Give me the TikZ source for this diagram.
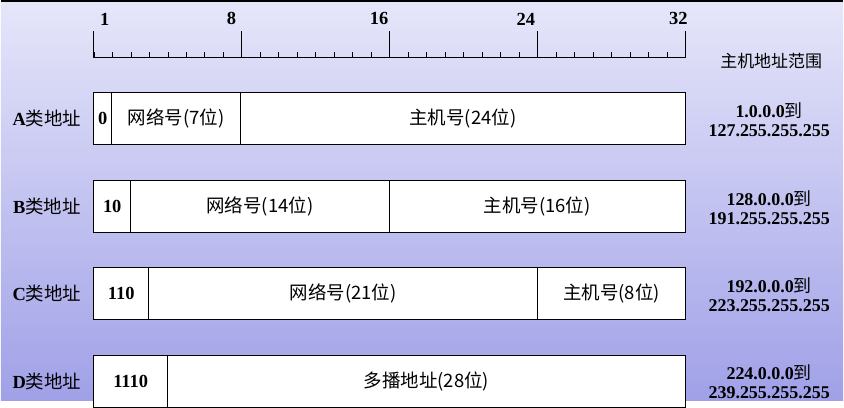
\documentclass[tikz,border=0pt]{standalone}
\usepackage{fontspec}
\setmainfont{Liberation Serif}
\newfontfamily\cjk{Noto Sans CJK SC}
\definecolor{bgtop}{RGB}{230,230,250}
\definecolor{bgbot}{RGB}{160,160,232}
\begin{document}
\begin{tikzpicture}[x=1pt,y=-1pt,font=\fontsize{18.5}{21}\selectfont]
    \tikzset{field/.style={draw, thick, fill=white},
             bits/.style={font=\fontsize{18.5}{21}\selectfont\bfseries},
             addrrange/.style={font=\fontsize{18}{19}\selectfont\bfseries, align=center, inner sep=0pt}}

    \shade[top color=bgtop, bottom color=bgbot] (0,0) rectangle (844,400);
    \draw[line width=2pt] (0,0) -- (844,0);

    % ruler
    \draw[thick] (93,57) -- (686,57);
    \foreach \i in {0,...,32} {
        \draw (93+18.53*\i,57) -- (93+18.53*\i,51);
    }
    \foreach \i in {0,8,16,24,32} {
        \draw[thick] (93+18.53*\i,57) -- (93+18.53*\i,30);
    }
    \node[bits] (b1) at (104,18) {1};
    \node[bits] (b8) at (231,18) {8};
    \node[bits] (b16) at (379,18) {16};
    \node[bits] (b24) at (526,18) {24};
    \node[bits] (b32) at (679,18) {32};
    \node[font=\cjk\fontsize{17}{19}\selectfont] (hdr) at (772,60) {主机地址范围};

    % A
    \draw[field] (93,92) rectangle (111,144);
    \draw[field] (111,92) rectangle (240,144);
    \draw[field] (240,92) rectangle (686,144);
    \node[bits] (a0) at (102,118) {0};
    \node (anet) at (175.5,118) {\cjk 网络号(7位)};
    \node (ahost) at (463,118) {\cjk 主机号(24位)};
    \node (alab) at (46,118) {\textbf{A}\cjk 类地址};
    \node[addrrange] (arng) at (770,119) {1.0.0.0{\cjk\mdseries 到}\\127.255.255.255};

    % B
    \draw[field] (93,180) rectangle (130,232);
    \draw[field] (130,180) rectangle (389,232);
    \draw[field] (389,180) rectangle (686,232);
    \node[bits] (b0) at (111.5,206) {10};
    \node (bnet) at (259.5,206) {\cjk 网络号(14位)};
    \node (bhost) at (537.5,206) {\cjk 主机号(16位)};
    \node (blab) at (46,206) {\textbf{B}\cjk 类地址};
    \node[addrrange] (brng) at (770,207) {128.0.0.0{\cjk\mdseries 到}\\191.255.255.255};

    % C
    \draw[field] (93,267) rectangle (148,319);
    \draw[field] (148,267) rectangle (538,319);
    \draw[field] (538,267) rectangle (686,319);
    \node[bits] (c0) at (120.5,293) {110};
    \node (cnet) at (343,293) {\cjk 网络号(21位)};
    \node (chost) at (612,293) {\cjk 主机号(8位)};
    \node (clab) at (46,293) {\textbf{C}\cjk 类地址};
    \node[addrrange] (crng) at (770,294) {192.0.0.0{\cjk\mdseries 到}\\223.255.255.255};

    % D
    \draw[field] (93,355) rectangle (167,407);
    \draw[field] (167,355) rectangle (686,407);
    \node[bits] (d0) at (130,381) {1110};
    \node (dnet) at (426.5,381) {\cjk 多播地址(28位)};
    \node (dlab) at (46,381) {\textbf{D}\cjk 类地址};
    \node[addrrange] (drng) at (770,382) {224.0.0.0{\cjk\mdseries 到}\\239.255.255.255};

    \useasboundingbox (0,0) rectangle (844,400);
\end{tikzpicture}
\end{document}
